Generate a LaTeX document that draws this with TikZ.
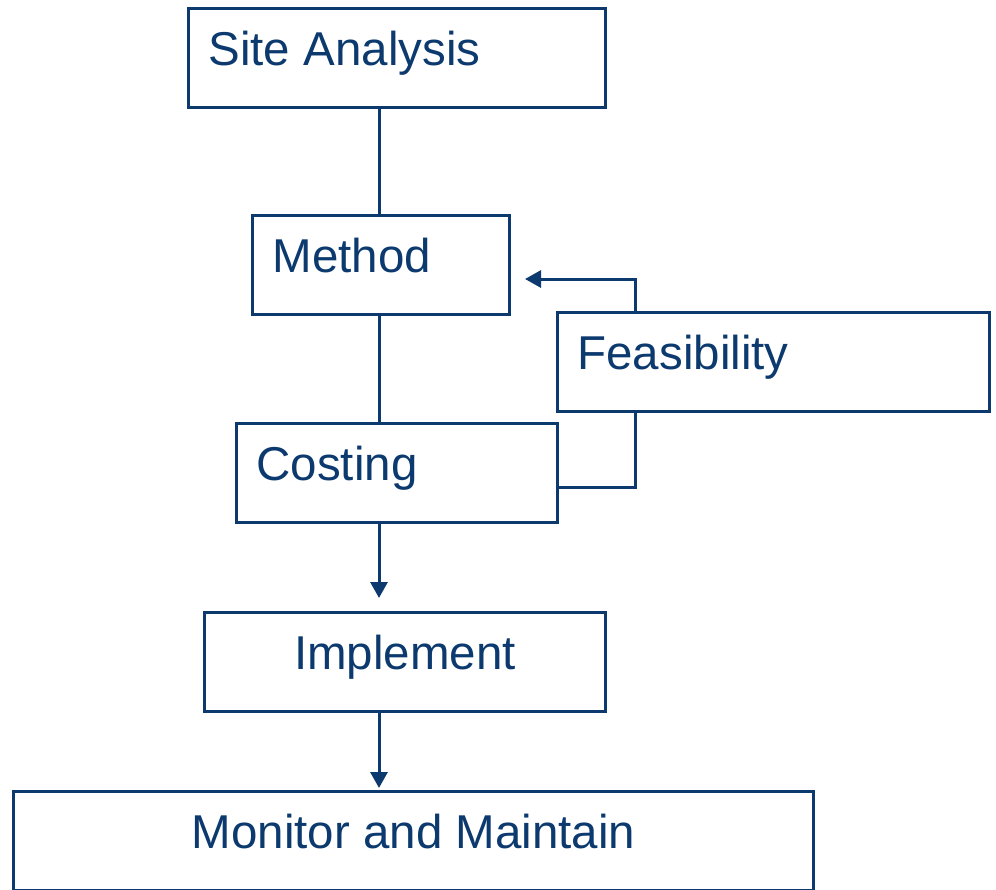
\documentclass[tikz,border=0pt]{standalone}
\usepackage{fontspec}
\setmainfont{Liberation Sans}
\usetikzlibrary{arrows.meta}
\definecolor{planblue}{RGB}{12,58,110}

\begin{document}
\begin{tikzpicture}[x=1pt,y=-1pt]
      \tikzstyle{stage}=[draw=planblue, line width=3pt, text=planblue, minimum height=99pt,
        font=\fontsize{47.5}{57}\selectfont, text height=34pt, text depth=19pt, anchor=north west]
      \tikzstyle{leftstage}=[stage, inner xsep=20pt, align=flush left]
      \tikzstyle{midstage}=[stage, inner xsep=0pt, align=center]
      \tikzstyle{link}=[draw=planblue, line width=3pt]
      \tikzstyle{flow}=[link, -{Triangle[length=16pt,width=17pt]}]
      \useasboundingbox (0,0) rectangle (996,889);
      \node[leftstage, text width=377pt] (site) at (187,7) {Site Analysis};
      \node[leftstage, text width=217pt] (meth) at (251,214) {Method};
      \node[leftstage, text width=281pt] (cost) at (235,422) {Costing};
      \node[midstage, minimum width=401pt] (impl) at (203,611) {Implement};
      \node[midstage, minimum width=800pt] (moni) at (12,790) {Monitor and Maintain};
      % plain links down the middle
      \draw[link] (site.south -| 379,0) -- (meth.north -| 379,0);
      \draw[link] (meth.south -| 379,0) -- (cost.north -| 379,0);
      \draw[flow, shorten >=13pt] (cost.south -| 379,0) -- (impl.north -| 379,0);
      \draw[flow, shorten >=2pt] (impl.south -| 379,0) -- (moni.north -| 379,0);
      % loop back from costing
      \coordinate (loopin) at (556,487);
      \coordinate (loopup) at (635,279);
      \coordinate (loopend) at (525,279);
      \draw[flow] (loopin) -| (loopup) -- (loopend);
      \node[leftstage, text width=392pt, fill=white] (feas) at (556,311) {Feasibility};
\end{tikzpicture}
\end{document}
